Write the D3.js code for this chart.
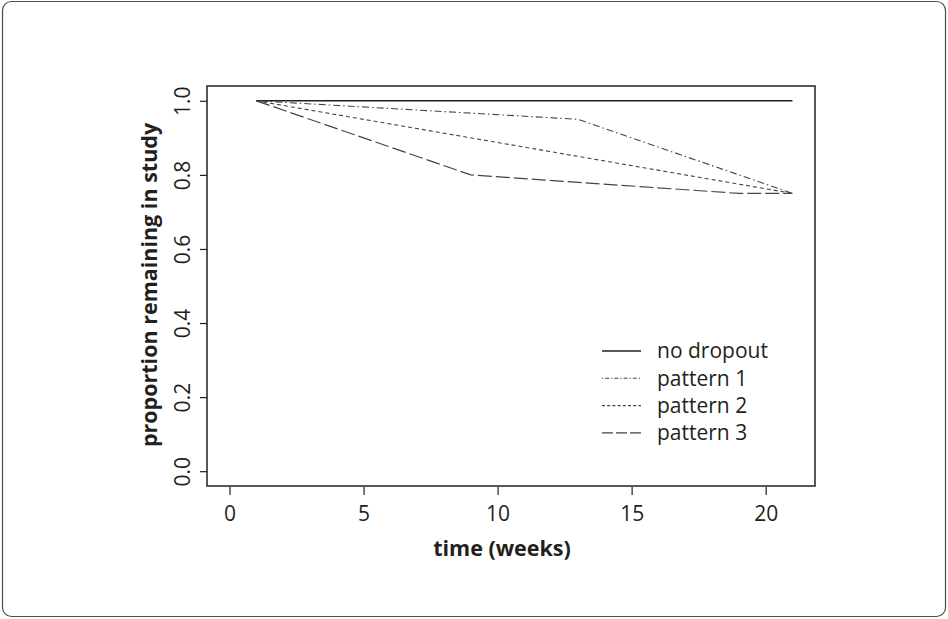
<!DOCTYPE html>
<html>
<head>
<meta charset="utf-8">
<script src="https://cdn.jsdelivr.net/npm/d3@7"></script>
<style>
  body { margin: 0; background: #fff; }
  text { font-family: "Open Sans", "Noto Sans", sans-serif; fill: #231f20; }
</style>
</head>
<body>
<script>
// data
var seriesNames = ["no dropout", "pattern 1", "pattern 2", "pattern 3"];
var noDropoutWeeks = [1, 21];
var noDropoutValues = [1, 1];
var pattern1Weeks = [1, 13, 21];
var pattern1Values = [1, 0.95, 0.75];
var pattern2Weeks = [1, 21];
var pattern2Values = [1, 0.75];
var pattern3Weeks = [1, 9, 19, 21];
var pattern3Values = [1, 0.8, 0.75, 0.75];
var xTicks = [0, 5, 10, 15, 20];
var yTicks = [0, 0.2, 0.4, 0.6, 0.8, 1.0];

//SVG dimensions
var svgWidth = 948;
var svgHeight = 619;

// plot box, R style (4% padding on the limits)
var box = { left: 207, right: 815, top: 86, bottom: 486 };

var svg = d3.select("body")
    .append("svg")
    .attr("width", svgWidth)
    .attr("height", svgHeight);

// rounded frame round the whole figure
svg.append("rect")
    .attr("x", 2.5).attr("y", 1.5)
    .attr("width", 943).attr("height", 615)
    .attr("rx", 9).attr("ry", 9)
    .attr("fill", "none")
    .attr("stroke", "#4d4d4d")
    .attr("stroke-width", 1.2);

var xScale = d3.scaleLinear()
    .domain([-0.84, 21.84])
    .range([box.left, box.right]);

var yScale = d3.scaleLinear()
    .domain([-0.04, 1.04])
    .range([box.bottom, box.top]);

// series styles follow R lty: solid, dotdash, dashed, longdash
var series = [
    { name: seriesNames[0], weeks: noDropoutWeeks, values: noDropoutValues, dash: null, color: "#231f20", width: 1.4, legendDash: null },
    { name: seriesNames[1], weeks: pattern1Weeks, values: pattern1Values, dash: "1.5,3,7,3", color: "#444", width: 1.1, legendDash: "1.2,2,4,2" },
    { name: seriesNames[2], weeks: pattern2Weeks, values: pattern2Values, dash: "4,3", color: "#444", width: 1.1, legendDash: "3,2.2" },
    { name: seriesNames[3], weeks: pattern3Weeks, values: pattern3Values, dash: "14,4", color: "#444", width: 1.2, legendDash: "11,3" }
];

var line = d3.line()
    .x(d => xScale(d[0]))
    .y(d => yScale(d[1]));

series.forEach(function (s) {
    var pts = s.weeks.map((w, i) => [w, s.values[i]]);
    svg.append("path")
        .attr("d", line(pts))
        .attr("fill", "none")
        .attr("stroke", s.color)
        .attr("stroke-width", s.width)
        .attr("stroke-dasharray", s.dash);
});

// plot box
svg.append("rect")
    .attr("x", box.left).attr("y", box.top)
    .attr("width", box.right - box.left)
    .attr("height", box.bottom - box.top)
    .attr("fill", "none")
    .attr("stroke", "#231f20")
    .attr("stroke-width", 1.5);

// axes
var bottomAxis = d3.axisBottom(xScale)
    .tickValues(xTicks)
    .tickSize(8)
    .tickPadding(11)
    .tickFormat(d3.format("d"));

var leftAxis = d3.axisLeft(yScale)
    .tickValues(yTicks)
    .tickSize(7)
    .tickFormat(d3.format(".1f"));

var xAxisG = svg.append("g")
    .attr("transform", `translate(0, ${box.bottom + 1})`)
    .call(bottomAxis);
xAxisG.select(".domain").remove();
xAxisG.selectAll("line").attr("stroke", "#231f20").attr("stroke-width", 1.2);
xAxisG.selectAll("text")
    .attr("font-size", 21)
    .attr("font-family", null);

var yAxisG = svg.append("g")
    .attr("transform", `translate(${box.left}, 0)`)
    .call(leftAxis);
yAxisG.select(".domain").remove();
yAxisG.selectAll("line").attr("stroke", "#231f20").attr("stroke-width", 1.2);
// labels run along the axis as in R
yAxisG.selectAll("text")
    .attr("font-size", 21)
    .attr("font-family", null)
    .attr("x", null).attr("dy", null)
    .attr("text-anchor", "middle")
    .attr("transform", "translate(-17, 0) rotate(-90)");

// axis titles
svg.append("text")
    .attr("x", (box.left + box.right) / 2 - 9)
    .attr("y", 556)
    .attr("text-anchor", "middle")
    .attr("font-size", 21.5)
    .attr("font-weight", "bold")
    .text("time (weeks)");

svg.append("text")
    .attr("transform", `translate(157, ${yScale(0.5) - 1}) rotate(-90)`)
    .attr("text-anchor", "middle")
    .attr("font-size", 21.5)
    .attr("font-weight", "bold")
    .text("proportion remaining in study");

// legend
var legend = svg.append("g").attr("transform", "translate(602, 351)");
series.forEach(function (s, i) {
    var row = legend.append("g").attr("transform", `translate(0, ${i * 27.3})`);
    row.append("line")
        .attr("x1", 0).attr("x2", 39)
        .attr("stroke", s.color)
        .attr("stroke-width", s.width)
        .attr("stroke-dasharray", s.legendDash);
    row.append("text")
        .attr("x", 55)
        .attr("dy", "0.35em")
        .attr("font-size", 21)
        .text(s.name);
});
</script>
</body>
</html>
